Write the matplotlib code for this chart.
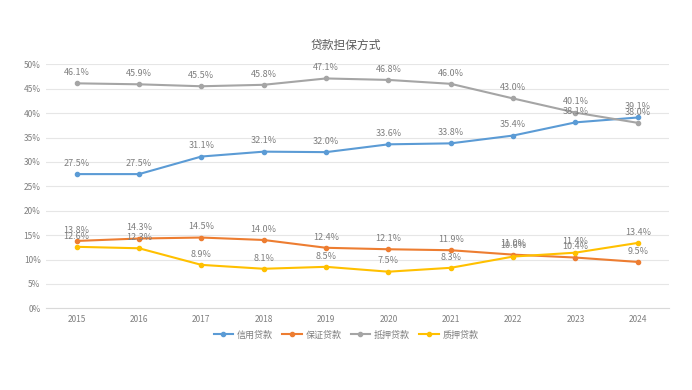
import matplotlib
matplotlib.use("Agg")
import matplotlib.pyplot as plt
from matplotlib.ticker import FuncFormatter

plt.rcParams['font.family'] = ['Noto Sans CJK SC', 'DejaVu Sans']

years = ["2015", "2016", "2017", "2018", "2019", "2020", "2021", "2022", "2023", "2024"]
credit = [27.5, 27.5, 31.1, 32.1, 32.0, 33.6, 33.8, 35.4, 38.1, 39.1]
guarantee = [13.8, 14.3, 14.5, 14.0, 12.4, 12.1, 11.9, 11.0, 10.4, 9.5]
mortgage = [46.1, 45.9, 45.5, 45.8, 47.1, 46.8, 46.0, 43.0, 40.1, 38.0]
pledge = [12.6, 12.3, 8.9, 8.1, 8.5, 7.5, 8.3, 10.6, 11.4, 13.4]

series_names = ["信用贷款", "保证贷款", "抵押贷款", "质押贷款"]
series = [credit, guarantee, mortgage, pledge]
colors = ["#5B9BD5", "#ED7D31", "#A5A5A5", "#FFC000"]

fig = plt.figure(figsize=(6.92, 3.90), dpi=100)
ax = fig.add_axes([45.5 / 692, 1 - 308.3 / 390, (669 - 45.5) / 692, (308.3 - 64.3) / 390])

x = list(range(len(years)))
text_color = "#7F7F7F"
for name, vals, c in zip(series_names, series, colors):
    ax.plot(x, vals, color=c, lw=1.5, marker='o', ms=3, label=name)
    for xi, v in zip(x, vals):
        ax.annotate(f"{v:.1f}%", (xi, v), xytext=(0, 4.5), textcoords='offset points',
                    ha='center', va='bottom', fontsize=6.5, color=text_color)

ax.set_xlim(-0.5, len(years) - 0.5)
ax.set_ylim(0, 50)
ax.set_yticks(range(0, 51, 5))
ax.yaxis.set_major_formatter(FuncFormatter(lambda v, p: f"{int(v)}%"))
ax.set_xticks(x)
ax.set_xticklabels(years)
ax.tick_params(axis='both', length=0, labelsize=6, colors=text_color)
ax.tick_params(axis='x', pad=5)
ax.grid(axis='y', color='#E6E6E6', lw=0.8)
ax.set_axisbelow(True)
for s in ['top', 'right', 'left']:
    ax.spines[s].set_visible(False)
ax.spines['bottom'].set_color('#D9D9D9')

fig.text(346 / 692, 1 - 45 / 390, "贷款担保方式", ha='center', va='center', fontsize=8.5, color="#595959")

fig.legend(loc='center', bbox_to_anchor=(346 / 692, 1 - 335 / 390), ncol=4, frameon=False,
           fontsize=6.5, labelcolor=text_color, handlelength=2.2, columnspacing=1.0, handletextpad=0.4)

fig.savefig("out.png", dpi=100, facecolor='white')
